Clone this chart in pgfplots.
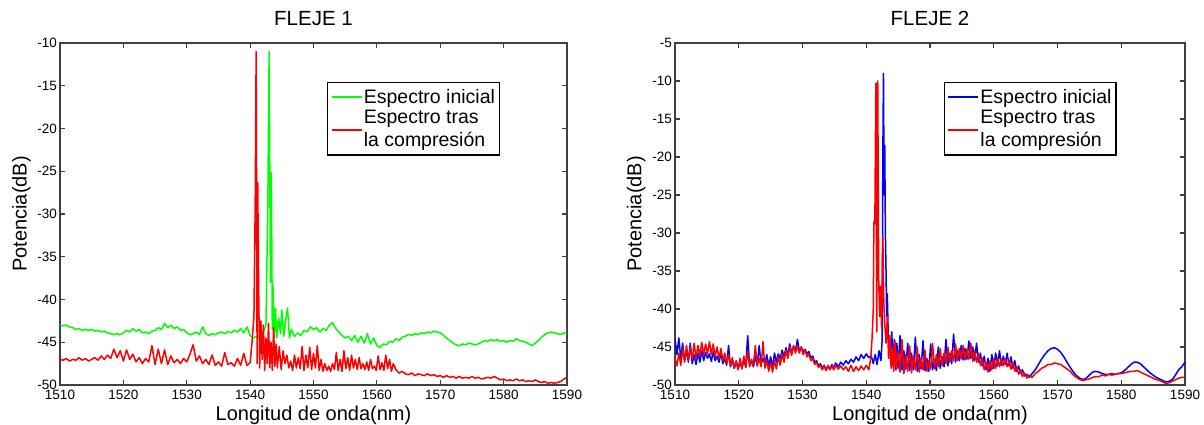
\documentclass[border=0pt]{standalone}
\usepackage{pgfplots}
\pgfplotsset{compat=1.18}
\usepackage{fontspec}
\setmainfont{Liberation Sans}
\definecolor{mgreen}{RGB}{0,255,0}
\definecolor{mred}{RGB}{255,0,0}
\definecolor{mblue}{RGB}{0,0,255}
\definecolor{axgray}{RGB}{64,64,64}
\pgfplotsset{
  spec/.style={
    anchor=south west, scale only axis,
    width=507pt, height=342pt,
    xmin=1510, xmax=1590,
    xtick={1510,1520,...,1590},
    tick align=inside, major tick length=5pt,
    tick style={line width=1.1pt, color=axgray},
    axis line style={line width=1.6pt, color=axgray},
    /pgf/number format/assume math mode=true,
    /pgf/number format/1000 sep={},
    ticklabel style={font=\fontsize{13.5}{16}\selectfont, text=black},
    yticklabel style={anchor=east, inner sep=0pt, xshift=-3pt},
    xticklabel style={anchor=north, inner sep=0pt, yshift=-5pt},
    title style={font=\fontsize{20.5}{24}\selectfont, at={(0.5,1)}, anchor=base, yshift=11pt},
    xlabel style={font=\fontsize{20}{24}\selectfont, at={(axis description cs:0.5,0)}, anchor=base, yshift=-36pt},
    ylabel style={font=\fontsize{20}{24}\selectfont, at={(axis description cs:-0.066,0.5)}, anchor=base, rotate=0},
    xlabel={Longitud de onda(nm)},
    ylabel={Potencia(dB)},
    legend style={at={(0.527,0.886)}, anchor=north west, draw=black, line width=1.3pt,
      font=\fontsize{19.5}{22}\selectfont, inner xsep=3pt, inner ysep=5pt, row sep=2.5pt,
      nodes={inner sep=1.5pt}},
    legend cell align=left,
    legend image code/.code={\draw[#1, line width=1.5pt] (0pt,0pt) -- (30pt,0pt);},
    every axis plot/.append style={line width=1.5pt, line join=round},
  },
  highline/.style={legend image code/.code={\draw[mred, line width=1.5pt] (0pt,10.5pt) -- (30pt,10.5pt);}},
}
\begin{document}
\begin{tikzpicture}
\useasboundingbox (0,0) rectangle (1204pt,425pt);
% ---------------- FLEJE 1 ----------------
\begin{axis}[spec, at={(60pt,40pt)}, ymin=-50, ymax=-10, ytick={-50,-45,...,-10}, title={FLEJE 1}]
\addplot[mgreen] coordinates {
(1510,-43.0)(1510.5,-43.1)(1511,-43.0)(1511.5,-43.2)(1512,-43.3)(1512.5,-43.5)(1513,-43.4)(1513.5,-43.6)(1514,-43.5)(1514.5,-43.6)
(1515,-43.5)(1515.5,-43.7)(1516,-43.6)(1516.5,-43.8)(1517,-43.7)(1517.5,-43.9)(1518,-44.0)(1518.5,-44.1)(1519,-44.0)(1519.5,-44.1)
(1520,-43.9)(1520.5,-43.6)(1521,-43.8)(1521.5,-43.4)(1522,-43.7)(1522.5,-43.5)(1523,-43.9)(1523.5,-43.8)(1524,-44.0)(1524.5,-43.7)
(1525,-43.6)(1525.5,-43.3)(1526,-43.5)(1526.5,-42.8)(1527,-43.3)(1527.5,-43.0)(1528,-43.4)(1528.5,-43.2)(1529,-43.6)(1529.5,-43.5)
(1530,-43.9)(1530.5,-44.1)(1531,-44.0)(1531.5,-43.8)(1532,-44.1)(1532.5,-43.2)(1533,-44.0)(1533.5,-44.2)(1534,-44.0)(1534.5,-44.1)
(1535,-43.9)(1535.5,-43.8)(1536,-44.0)(1536.5,-43.7)(1537,-43.9)(1537.5,-43.6)(1538,-43.8)(1538.5,-43.4)(1539,-43.9)(1539.5,-43.2)
(1540,-44.2)(1540.5,-44.5)(1541,-44.3)(1541.5,-44.6)(1542,-44.0)(1542.5,-43.0)(1542.8,-28.5)(1543.0,-11.0)(1543.2,-38.0)(1543.35,-25.2)
(1543.5,-43.5)(1543.6,-38.3)(1543.8,-44.5)(1544,-41.0)(1544.2,-44.5)(1544.5,-42.2)(1544.8,-44.0)(1545,-41.2)(1545.3,-44.3)(1545.6,-42.5)
(1545.9,-41.0)(1546.2,-44.5)(1546.5,-43.5)(1547,-44.3)(1547.5,-43.9)(1548,-44.2)(1548.5,-43.6)(1549,-43.8)(1549.5,-43.2)(1550,-43.5)
(1550.5,-43.3)(1551,-43.8)(1551.5,-43.4)(1552,-43.6)(1552.5,-43.0)(1553,-42.7)(1553.5,-43.4)(1554,-43.8)(1554.5,-44.2)(1555,-44.5)
(1555.5,-44.3)(1556,-44.8)(1556.5,-44.2)(1557,-45.0)(1557.5,-44.3)(1558,-45.1)(1558.5,-44.0)(1559,-45.2)(1559.5,-44.5)(1560,-45.4)
(1560.5,-45.6)(1561,-45.2)(1561.5,-45.3)(1562,-44.9)(1562.5,-45.0)(1563,-44.6)(1563.5,-44.8)(1564,-44.4)(1564.5,-44.3)(1565,-44.1)
(1565.5,-44.2)(1566,-44.0)(1566.5,-44.1)(1567,-43.9)(1567.5,-44.0)(1568,-43.8)(1568.5,-43.9)(1569,-43.7)(1569.5,-43.8)(1570,-43.9)
(1570.5,-44.2)(1571,-44.5)(1571.5,-44.8)(1572,-45.1)(1572.5,-45.3)(1573,-45.4)(1573.5,-45.2)(1574,-45.3)(1574.5,-45.1)(1575,-45.2)
(1575.5,-45.3)(1576,-45.2)(1576.5,-45.0)(1577,-44.8)(1577.5,-44.9)(1578,-44.7)(1578.5,-44.8)(1579,-44.7)(1579.5,-44.9)(1580,-44.8)
(1580.5,-45.0)(1581,-44.8)(1581.5,-44.9)(1582,-44.6)(1582.5,-44.8)(1583,-44.9)(1583.5,-45.0)(1584,-45.2)(1584.5,-45.4)(1585,-45.1)
(1585.5,-44.8)(1586,-44.4)(1586.5,-44.1)(1587,-43.9)(1587.5,-43.8)(1588,-43.9)(1588.5,-44.0)(1589,-44.1)(1589.5,-43.9)(1590,-44.0)
};
\addlegendentry{Espectro inicial}
\addplot[mred, forget plot] coordinates {
(1510,-47.0)(1510.5,-47.1)(1511,-46.9)(1511.5,-47.2)(1512,-47.0)(1512.5,-47.1)(1513,-46.8)(1513.5,-47.1)(1514,-46.9)(1514.5,-47.2)
(1515,-47.0)(1515.5,-46.8)(1516,-47.1)(1516.5,-46.6)(1517,-47.0)(1517.5,-46.5)(1518,-46.9)(1518.5,-45.8)(1519,-46.8)(1519.5,-46.0)
(1520,-47.2)(1520.5,-45.9)(1521,-47.0)(1521.5,-46.4)(1522,-47.3)(1522.5,-46.8)(1523,-47.5)(1523.5,-46.9)(1524,-47.3)(1524.5,-45.4)
(1525,-47.6)(1525.5,-45.8)(1526,-47.5)(1526.5,-45.9)(1527,-47.6)(1527.5,-46.6)(1528,-47.4)(1528.5,-47.0)(1529,-47.5)(1529.5,-46.9)
(1530,-47.3)(1530.5,-46.4)(1531,-45.3)(1531.5,-47.2)(1532,-46.6)(1532.5,-47.5)(1533,-47.0)(1533.5,-47.6)(1534,-46.5)(1534.5,-47.7)
(1535,-47.3)(1535.5,-47.8)(1536,-46.2)(1536.5,-47.6)(1537,-47.4)(1537.5,-47.8)(1538,-46.9)(1538.5,-47.7)(1539,-46.3)(1539.5,-47.7)
(1540,-47.4)(1540.3,-45.0)(1540.6,-42.0)(1540.8,-29.0)(1540.95,-11.0)(1541.1,-47.5)(1541.2,-26.3)(1541.35,-39.0)(1541.5,-48.0)(1541.7,-42.5)
(1541.9,-47.0)(1542.1,-43.0)(1542.3,-48.3)(1542.5,-44.5)(1542.7,-47.5)(1542.9,-42.8)(1543.1,-48.0)(1543.3,-45.0)(1543.5,-48.3)(1543.7,-43.3)
(1543.9,-47.8)(1544.1,-45.2)(1544.3,-48.0)(1544.6,-45.5)(1544.9,-48.2)(1545.2,-46.0)(1545.5,-47.5)(1545.8,-46.5)(1546.1,-48.0)(1546.4,-47.2)
(1546.7,-48.3)(1547,-46.5)(1547.3,-48.0)(1547.6,-46.8)(1547.9,-48.1)(1548.2,-45.5)(1548.5,-48.3)(1548.8,-46.5)(1549.1,-48.0)(1549.4,-45.6)
(1549.7,-48.2)(1550,-46.3)(1550.3,-48.0)(1550.6,-45.4)(1550.9,-48.3)(1551.2,-47.0)(1551.5,-48.4)(1551.8,-47.5)(1552.1,-48.3)(1552.4,-47.8)
(1552.7,-48.4)(1553,-47.5)(1553.3,-48.2)(1553.6,-46.2)(1553.9,-48.3)(1554.2,-47.0)(1554.5,-48.4)(1554.8,-46.0)(1555.1,-48.1)(1555.4,-46.8)
(1555.7,-48.3)(1556,-46.5)(1556.3,-48.0)(1556.6,-47.0)(1556.9,-48.2)(1557.2,-46.8)(1557.5,-48.1)(1557.8,-47.5)(1558.1,-48.2)(1558.4,-47.3)
(1558.7,-48.3)(1559,-47.0)(1559.3,-48.1)(1559.6,-47.8)(1559.9,-48.3)(1560.2,-46.6)(1560.5,-48.2)(1560.8,-47.4)(1561.1,-48.3)(1561.4,-46.5)
(1561.7,-48.1)(1562,-47.0)(1562.3,-48.4)(1562.6,-47.5)(1563,-48.2)(1563.5,-48.6)(1564,-48.4)(1564.5,-48.7)(1565,-48.8)(1565.5,-48.6)
(1566,-48.9)(1566.5,-48.7)(1567,-48.8)(1567.5,-48.9)(1568,-48.7)(1568.5,-48.9)(1569,-48.8)(1569.5,-49.0)(1570,-48.9)(1570.5,-49.1)
(1571,-48.9)(1571.5,-49.1)(1572,-49.0)(1572.5,-49.2)(1573,-49.0)(1573.5,-49.2)(1574,-49.1)(1574.5,-49.2)(1575,-49.0)(1575.5,-49.2)
(1576,-49.1)(1576.5,-49.3)(1577,-49.2)(1577.5,-49.1)(1578,-49.2)(1578.5,-49.0)(1579,-49.2)(1579.5,-49.4)(1580,-49.3)(1580.5,-49.5)
(1581,-49.4)(1581.5,-49.5)(1582,-49.3)(1582.5,-49.5)(1583,-49.4)(1583.5,-49.6)(1584,-49.5)(1584.5,-49.6)(1585,-49.4)(1585.5,-49.6)
(1586,-49.7)(1586.5,-49.6)(1587,-49.8)(1587.5,-49.7)(1588,-49.8)(1588.5,-49.7)(1589,-49.6)(1589.5,-49.3)(1590,-49.1)
};
\addlegendimage{empty legend}
\addlegendentry{Espectro tras}
\addlegendimage{highline}
\addlegendentry{la compresión}
\end{axis}
% ---------------- FLEJE 2 ----------------
\begin{axis}[spec, at={(675pt,40pt)}, width=510pt, ymin=-50, ymax=-5, ytick={-50,-45,...,-5}, title={FLEJE 2}]
\addplot[mblue] coordinates {
(1510.0,-44.0)(1510.3,-46.0)(1510.6,-43.8)(1510.9,-46.5)(1511.2,-44.5)(1511.5,-46.8)(1511.8,-45.5)(1512.1,-47.0)(1512.4,-44.5)(1512.7,-47.2)
(1513.0,-46.0)(1513.3,-47.3)(1513.6,-45.8)(1513.9,-47.0)(1514.2,-45.5)(1514.5,-46.8)(1514.8,-45.7)(1515.1,-46.5)(1515.4,-45.9)(1515.7,-46.9)
(1516.0,-45.6)(1516.3,-46.8)(1516.6,-46.2)(1516.9,-47.0)(1517.2,-45.8)(1517.5,-47.2)(1517.8,-46.5)(1518.1,-47.4)(1518.4,-44.8)(1518.7,-47.6)
(1519.0,-46.8)(1519.3,-47.8)(1519.6,-46.9)(1519.9,-47.9)(1520.2,-47.0)(1520.5,-47.8)(1520.8,-46.7)(1521.1,-47.6)(1521.4,-43.5)(1521.7,-47.5)
(1522.0,-46.8)(1522.3,-47.6)(1522.6,-46.2)(1522.9,-47.4)(1523.2,-44.8)(1523.5,-47.3)(1523.8,-46.5)(1524.1,-47.2)(1524.4,-46.0)(1524.7,-47.5)
(1525.0,-46.3)(1525.3,-47.7)(1525.6,-45.8)(1525.9,-47.0)(1526.2,-45.9)(1526.5,-46.6)(1526.8,-45.4)(1527.1,-46.3)(1527.4,-45.1)(1527.7,-46.0)
(1528.0,-44.6)(1528.3,-45.8)(1528.6,-44.9)(1528.9,-45.5)(1529.2,-44.0)(1529.5,-45.5)(1529.8,-45.0)(1530.1,-45.6)(1530.4,-45.3)(1530.7,-45.9)
(1531.0,-45.6)(1531.3,-46.4)(1531.6,-46.2)(1531.9,-47.0)(1532.2,-46.8)(1532.5,-47.5)(1532.8,-47.2)(1533.1,-47.8)(1533.4,-47.4)(1533.7,-48.0)
(1534.0,-47.5)(1534.3,-47.9)(1534.6,-47.3)(1534.9,-47.8)(1535.2,-47.1)(1535.6,-47.6)(1536.0,-47.0)(1536.4,-47.4)(1536.8,-46.8)(1537.2,-47.2)
(1537.6,-46.6)(1538.0,-47.0)(1538.4,-46.3)(1538.8,-46.8)(1539.2,-46.0)(1539.6,-46.5)(1540.0,-45.9)(1540.4,-46.4)(1540.8,-46.2)(1541.1,-47.2)
(1541.4,-46.0)(1541.7,-47.3)(1542.0,-45.5)(1542.3,-46.8)(1542.5,-44.0)(1542.6,-20.0)(1542.7,-9.0)(1542.8,-25.0)(1542.9,-18.5)(1543.0,-30.0)
(1543.1,-35.0)(1543.2,-41.0)(1543.3,-38.0)(1543.45,-43.5)(1543.6,-44.5)(1543.8,-46.5)(1544.0,-43.0)(1544.2,-47.5)(1544.4,-44.0)(1544.6,-48.0)
(1544.8,-44.5)(1545.0,-47.8)(1545.3,-43.5)(1545.6,-48.0)(1545.9,-45.5)(1546.2,-47.9)(1546.5,-44.5)(1546.8,-48.1)(1547.1,-45.8)(1547.4,-48.0)
(1547.7,-43.7)(1548.0,-48.2)(1548.3,-46.0)(1548.6,-47.9)(1548.9,-44.2)(1549.2,-48.1)(1549.5,-46.5)(1549.8,-48.2)(1550.1,-44.6)(1550.4,-48.0)
(1550.7,-46.8)(1551.0,-48.1)(1551.3,-45.0)(1551.6,-47.8)(1551.9,-46.3)(1552.2,-47.6)(1552.5,-44.0)(1552.8,-47.5)(1553.1,-45.8)(1553.4,-47.2)
(1553.7,-43.3)(1554.0,-47.0)(1554.3,-45.5)(1554.6,-46.8)(1554.9,-44.8)(1555.2,-46.7)(1555.5,-45.2)(1555.8,-46.6)(1556.1,-44.2)(1556.4,-46.5)
(1556.7,-45.0)(1557.0,-46.8)(1557.3,-44.5)(1557.6,-47.0)(1557.9,-45.8)(1558.2,-47.5)(1558.5,-46.2)(1558.8,-48.0)(1559.1,-46.5)(1559.4,-48.2)
(1559.7,-46.0)(1560.0,-47.8)(1560.3,-45.8)(1560.6,-47.5)(1560.9,-45.5)(1561.2,-47.4)(1561.5,-46.2)(1561.8,-47.3)(1562.1,-45.8)(1562.4,-47.5)
(1562.7,-46.3)(1563.0,-47.8)(1563.3,-46.8)(1563.6,-48.2)(1563.9,-47.5)(1564.2,-48.5)(1564.5,-48.0)(1564.8,-48.8)(1565.2,-48.6)(1565.6,-49.0)
(1566.0,-48.5)(1566.5,-48.0)(1567.0,-47.3)(1567.5,-46.6)(1568.0,-46.0)(1568.5,-45.5)(1569.0,-45.2)(1569.5,-45.1)(1570.0,-45.3)(1570.5,-45.7)
(1571.0,-46.3)(1571.5,-47.0)(1572.0,-47.7)(1572.5,-48.3)(1573.0,-48.8)(1573.5,-49.1)(1574.0,-49.3)(1574.5,-49.1)(1575.0,-48.7)(1575.5,-48.3)
(1576.0,-48.2)(1576.5,-48.3)(1577.0,-48.5)(1577.5,-48.6)(1578.0,-48.6)(1578.5,-48.5)(1579.0,-48.6)(1579.5,-48.5)(1580.0,-48.4)(1580.5,-48.1)
(1581.0,-47.7)(1581.5,-47.3)(1582.0,-47.0)(1582.5,-47.0)(1583.0,-47.2)(1583.5,-47.6)(1584.0,-48.0)(1584.5,-48.4)(1585.0,-48.7)(1585.5,-49.0)
(1586.0,-49.2)(1586.5,-49.4)(1587.0,-49.6)(1587.5,-49.5)(1588.0,-49.3)(1588.5,-48.7)(1589.0,-48.0)(1589.5,-47.6)(1590.0,-47.0)
};
\addlegendentry{Espectro inicial}
\addplot[mred, forget plot] coordinates {
(1510.0,-46.5)(1510.3,-47.5)(1510.6,-45.8)(1510.9,-47.4)(1511.2,-45.2)(1511.5,-47.0)(1511.8,-44.8)(1512.1,-46.8)(1512.4,-45.0)(1512.7,-46.6)
(1513.0,-44.5)(1513.3,-46.5)(1513.6,-44.8)(1513.9,-46.2)(1514.2,-44.4)(1514.5,-46.0)(1514.8,-44.6)(1515.1,-45.9)(1515.4,-44.3)(1515.7,-46.0)
(1516.0,-44.6)(1516.3,-46.2)(1516.6,-45.0)(1516.9,-46.5)(1517.2,-45.2)(1517.5,-46.8)(1517.8,-45.8)(1518.1,-47.2)(1518.4,-46.0)(1518.7,-47.5)
(1519.0,-46.4)(1519.3,-47.8)(1519.6,-46.8)(1519.9,-48.0)(1520.2,-46.5)(1520.5,-47.9)(1520.8,-46.2)(1521.1,-47.7)(1521.4,-45.5)(1521.7,-47.6)
(1522.0,-46.6)(1522.3,-47.4)(1522.6,-44.8)(1522.9,-47.5)(1523.2,-46.5)(1523.5,-47.6)(1523.8,-44.3)(1524.1,-47.8)(1524.4,-46.8)(1524.7,-48.2)
(1525.0,-47.0)(1525.3,-48.3)(1525.6,-46.8)(1525.9,-47.9)(1526.2,-46.3)(1526.5,-47.4)(1526.8,-45.9)(1527.1,-47.0)(1527.4,-45.4)(1527.7,-46.5)
(1528.0,-45.0)(1528.3,-46.1)(1528.6,-44.8)(1528.9,-45.8)(1529.2,-44.8)(1529.5,-45.8)(1529.8,-45.0)(1530.1,-46.0)(1530.4,-45.4)(1530.7,-46.3)
(1531.0,-45.9)(1531.3,-46.8)(1531.6,-46.5)(1531.9,-47.3)(1532.2,-47.0)(1532.5,-47.7)(1532.8,-47.4)(1533.1,-48.0)(1533.4,-47.5)(1533.7,-48.1)
(1534.0,-47.4)(1534.3,-48.0)(1534.6,-47.5)(1534.9,-48.0)(1535.2,-47.4)(1535.6,-47.9)(1536.0,-47.5)(1536.4,-48.0)(1536.8,-47.6)(1537.2,-48.2)
(1537.6,-47.4)(1538.0,-48.2)(1538.4,-47.6)(1538.8,-48.1)(1539.2,-47.5)(1539.6,-48.0)(1540.0,-47.4)(1540.4,-48.0)(1540.7,-46.5)(1540.9,-44.0)
(1541.1,-40.0)(1541.2,-28.5)(1541.35,-28.8)(1541.5,-10.3)(1541.65,-43.0)(1541.8,-10.0)(1541.95,-36.0)(1542.1,-41.0)(1542.25,-37.0)(1542.4,-42.5)
(1542.6,-30.5)(1542.75,-39.0)(1542.9,-42.0)(1543.1,-44.5)(1543.3,-41.0)(1543.5,-46.5)(1543.7,-43.5)(1543.9,-47.8)(1544.1,-45.0)(1544.3,-48.2)
(1544.5,-44.2)(1544.7,-48.0)(1545.0,-45.5)(1545.3,-48.3)(1545.6,-44.0)(1545.9,-48.5)(1546.2,-46.0)(1546.5,-48.2)(1546.8,-44.8)(1547.1,-48.4)
(1547.4,-46.2)(1547.7,-48.0)(1548.0,-45.0)(1548.3,-48.3)(1548.6,-46.5)(1548.9,-48.0)(1549.2,-45.4)(1549.5,-48.2)(1549.8,-46.8)(1550.1,-47.9)
(1550.4,-44.5)(1550.7,-47.8)(1551.0,-46.0)(1551.3,-47.6)(1551.6,-45.2)(1551.9,-47.5)(1552.2,-45.8)(1552.5,-47.2)(1552.8,-45.0)(1553.1,-47.0)
(1553.4,-45.5)(1553.7,-46.8)(1554.0,-44.6)(1554.3,-46.8)(1554.6,-45.2)(1554.9,-46.6)(1555.2,-44.8)(1555.5,-46.7)(1555.8,-45.3)(1556.1,-46.6)
(1556.4,-44.5)(1556.7,-46.9)(1557.0,-45.5)(1557.3,-47.0)(1557.6,-45.8)(1557.9,-47.4)(1558.2,-46.5)(1558.5,-48.0)(1558.8,-47.0)(1559.1,-48.3)
(1559.4,-46.8)(1559.7,-48.0)(1560.0,-46.5)(1560.3,-47.8)(1560.6,-46.4)(1560.9,-47.6)(1561.2,-46.6)(1561.5,-47.5)(1561.8,-46.5)(1562.1,-47.6)
(1562.4,-46.8)(1562.7,-47.9)(1563.0,-47.0)(1563.3,-48.2)(1563.6,-47.6)(1563.9,-48.6)(1564.2,-48.0)(1564.5,-48.9)(1564.8,-48.4)(1565.2,-49.1)
(1565.6,-48.7)(1566.0,-49.0)(1566.5,-48.5)(1567.0,-48.2)(1567.5,-47.8)(1568.0,-47.6)(1568.5,-47.3)(1569.0,-47.3)(1569.5,-47.1)(1570.0,-47.2)
(1570.5,-47.3)(1571.0,-47.6)(1571.5,-47.9)(1572.0,-48.2)(1572.5,-48.7)(1573.0,-49.0)(1573.5,-49.3)(1574.0,-49.4)(1574.5,-49.3)(1575.0,-49.2)
(1575.5,-49.0)(1576.0,-48.9)(1576.5,-48.9)(1577.0,-48.7)(1577.5,-48.8)(1578.0,-48.6)(1578.5,-48.7)(1579.0,-48.6)(1579.5,-48.5)(1580.0,-48.5)
(1580.5,-48.4)(1581.0,-48.3)(1581.5,-48.2)(1582.0,-48.2)(1582.5,-48.1)(1583.0,-48.3)(1583.5,-48.5)(1584.0,-48.7)(1584.5,-48.9)(1585.0,-49.1)
(1585.5,-49.3)(1586.0,-49.4)(1586.5,-49.6)(1587.0,-49.8)(1587.5,-49.7)(1588.0,-49.5)(1588.5,-49.3)(1589.0,-49.1)(1589.5,-49.0)(1590.0,-49.0)
};
\addlegendimage{empty legend}
\addlegendentry{Espectro tras}
\addlegendimage{highline}
\addlegendentry{la compresión}
\end{axis}
\end{tikzpicture}
\end{document}
